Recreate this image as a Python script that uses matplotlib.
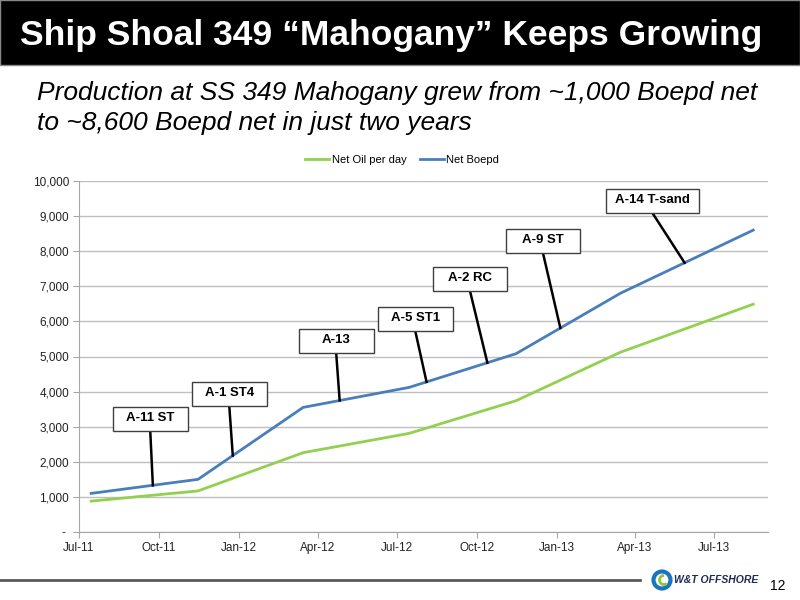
import matplotlib
matplotlib.use('Agg')
import matplotlib.pyplot as plt
import matplotlib.dates as mdates
from matplotlib.patches import Rectangle, Ellipse, Arc
from matplotlib.lines import Line2D
from matplotlib.ticker import FuncFormatter
import numpy as np

plt.rcParams['font.family'] = ['Liberation Sans', 'DejaVu Sans']

# production history, SS 349 Mahogany
dates = ['2011-07-15', '2011-11-15', '2012-03-15', '2012-07-15',
         '2012-11-15', '2013-03-15', '2013-08-15']
net_oil = [880, 1170, 2260, 2810, 3740, 5120, 6490]
net_boepd = [1100, 1500, 3550, 4120, 5080, 6800, 8600]

# wells brought on line
wells = ['A-11 ST', 'A-1 ST4', 'A-13', 'A-5 ST1', 'A-2 RC', 'A-9 ST', 'A-14 T-sand']
well_dates = ['2011-09-24', '2011-12-25', '2012-04-26', '2012-08-04',
              '2012-10-13', '2013-01-05', '2013-05-28']

# callout box layout (centre date, centre value, width in days)
box_x = ['2011-09-21', '2011-12-21', '2012-04-22', '2012-07-22',
         '2012-09-23', '2012-12-16', '2013-04-21']
box_y = [3220, 3920, 5440, 6070, 7210, 8290, 9430]
box_w = [86, 86, 86, 86, 86, 86, 107]
box_h = 684


def to_num(d):
    return mdates.date2num(np.array(d, dtype='datetime64[D]'))


def main():
    fig = plt.figure(figsize=(8, 6), dpi=100)

    # black title band
    fig.add_artist(Rectangle((0, 0.892), 1, 0.108, transform=fig.transFigure,
                             facecolor='black', edgecolor='#888888', lw=1))
    fig.text(20 / 800, 1 - 36 / 600, 'Ship Shoal 349 \u201cMahogany\u201d Keeps Growing',
             color='white', fontsize=25.5, fontweight='bold', va='center', ha='left')
    fig.text(37 / 800, 1 - 108 / 600,
             'Production at SS 349 Mahogany grew from ~1,000 Boepd net\n'
             'to ~8,600 Boepd net in just two years',
             fontsize=19, fontstyle='italic', va='center', ha='left', linespacing=1.3)

    ax = fig.add_axes([79 / 800, 68 / 600, 689 / 800, 351 / 600])
    x = to_num(dates)
    ax.plot(x, net_oil, color='#92D050', lw=2, label='Net Oil per day', zorder=3)
    ax.plot(x, net_boepd, color='#4A7EBB', lw=2, label='Net Boepd', zorder=3)

    ax.set_xlim(to_num('2011-07-01'), to_num('2013-09-01'))
    ax.set_ylim(0, 10000)
    ax.set_yticks(np.arange(0, 10001, 1000))
    ax.yaxis.set_major_formatter(FuncFormatter(lambda v, p: '- ' if v == 0 else f'{v:,.0f}'))
    ax.xaxis.set_major_locator(mdates.MonthLocator(bymonth=[1, 4, 7, 10]))
    ax.xaxis.set_major_formatter(mdates.DateFormatter('%b-%y'))

    ax.grid(axis='y', color='#BFBFBF', lw=1)
    ax.set_axisbelow(True)
    for s in ['top', 'right']:
        ax.spines[s].set_visible(False)
    for s in ['left', 'bottom']:
        ax.spines[s].set_color('#A6A6A6')
    ax.tick_params(axis='both', labelsize=8.5, colors='#A6A6A6', labelcolor='#222222',
                   length=4, pad=3)

    # well callouts
    wx = to_num(well_dates)
    wy = np.interp(wx, x, net_boepd)
    bx = to_num(box_x)
    for name, tx, ty, cx, cy, w in zip(wells, wx, wy, bx, box_y, box_w):
        ax.plot([cx, tx], [cy - box_h / 2, ty], color='black', lw=1.8, zorder=4)
        ax.add_patch(Rectangle((cx - w / 2, cy - box_h / 2), w, box_h,
                               facecolor='white', edgecolor='#404040', lw=1, zorder=5))
        ax.text(cx, cy + 40, name, ha='center', va='center', fontsize=9.5,
                fontweight='bold', zorder=6)

    fig.legend(loc='center', bbox_to_anchor=(402 / 800, 1 - 160 / 600), ncol=2,
               frameon=False, fontsize=8, handlelength=2.2, handletextpad=0.2,
               columnspacing=1.2)

    # footer
    fig.add_artist(Line2D([0, 640 / 800], [1 - 580 / 600] * 2, transform=fig.transFigure,
                          color='#595959', lw=2))
    fig.add_artist(Ellipse((662 / 800, 1 - 580 / 600), 17 / 800, 17 / 600,
                           transform=fig.transFigure, facecolor='none',
                           edgecolor='#1B75BC', lw=3))
    fig.add_artist(Arc((664 / 800, 1 - 580 / 600), 9 / 800, 9 / 600,
                       theta1=90, theta2=300, transform=fig.transFigure,
                       edgecolor='#8DC63F', lw=2))
    fig.text(674 / 800, 1 - 580 / 600, 'W&T OFFSHORE', fontsize=7.5, fontweight='bold',
             fontstyle='italic', color='#1F2A5A', va='center', ha='left')
    fig.text(778 / 800, 1 - 586 / 600, '12', fontsize=10, va='center', ha='center')

    fig.savefig('out.png', dpi=100)


if __name__ == "__main__":
    main()
